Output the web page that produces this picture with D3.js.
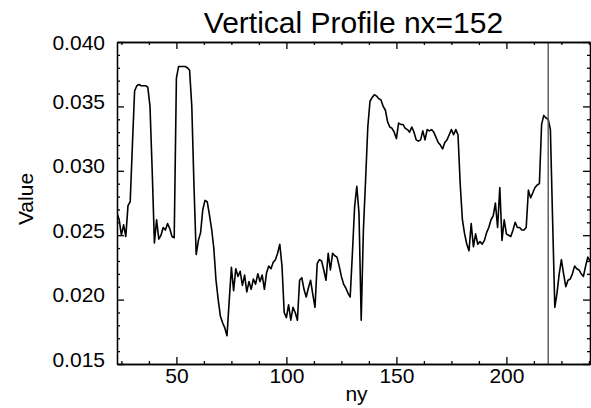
<!DOCTYPE html>
<html>
<head>
<meta charset="utf-8">
<script src="https://cdn.jsdelivr.net/npm/d3@7"></script>
<style>
  body { margin: 0; background: #fff; }
  svg { display: block; }
  text { font-family: "Liberation Sans", Arial, sans-serif; fill: #000; }
  .axis path, .axis line { stroke: #000; stroke-width: 1.3; }
  .profile { fill: none; stroke: #000; stroke-width: 1.6; stroke-linejoin: round; }
  .marker { stroke: #555; stroke-width: 1.4; }
</style>
</head>
<body>
<div id="chart"></div>
<script>
// profile values, one per ny from nyStart upward
var nyStart = 23;
var profileValues = [
  0.0267, 0.0262, 0.0250, 0.0258, 0.0249, 0.0273, 0.0276, 0.0320, 0.0362, 0.0366,
  0.0367, 0.0366, 0.0366, 0.0366, 0.0365, 0.0350, 0.0300, 0.0244, 0.0262, 0.0247,
  0.0250, 0.0256, 0.0254, 0.0259, 0.0255, 0.0249, 0.0248, 0.0372, 0.0381, 0.0381,
  0.0381, 0.0381, 0.0380, 0.0378, 0.0350, 0.0288, 0.0235, 0.0246, 0.0252, 0.0270,
  0.0277, 0.0276, 0.0266, 0.0255, 0.0240, 0.0215, 0.0200, 0.0187, 0.0182, 0.0178,
  0.0172, 0.0199, 0.0225, 0.0207, 0.0224, 0.0218, 0.0222, 0.0211, 0.0219, 0.0206,
  0.0214, 0.0208, 0.0216, 0.0212, 0.0220, 0.0214, 0.0219, 0.0208, 0.0221, 0.0226,
  0.0224, 0.0229, 0.0231, 0.0236, 0.0243, 0.0226, 0.0190, 0.0186, 0.0196, 0.0184,
  0.0194, 0.0190, 0.0184, 0.0215, 0.0217, 0.0208, 0.0202, 0.0209, 0.0215, 0.0204,
  0.0194, 0.0228, 0.0231, 0.0230, 0.0223, 0.0215, 0.0236, 0.0223, 0.0236, 0.0234,
  0.0233, 0.0226, 0.0218, 0.0212, 0.0209, 0.0205, 0.0202, 0.0236, 0.0272, 0.0288,
  0.0267, 0.0184, 0.0254, 0.0293, 0.0334, 0.0354, 0.0357, 0.0359, 0.0358, 0.0356,
  0.0355, 0.0350, 0.0347, 0.0338, 0.0334, 0.0333, 0.0330, 0.0325, 0.0337, 0.0336,
  0.0336, 0.0333, 0.0332, 0.0330, 0.0334, 0.0330, 0.0324, 0.0323, 0.0324, 0.0331,
  0.0324, 0.0332, 0.0331, 0.0332, 0.0330, 0.0326, 0.0322, 0.0320, 0.0317, 0.0322,
  0.0324, 0.0328, 0.0332, 0.0328, 0.0332, 0.0328, 0.0290, 0.0262, 0.0251, 0.0243,
  0.0238, 0.0259, 0.0241, 0.0251, 0.0243, 0.0245, 0.0243, 0.0246, 0.0252, 0.0256,
  0.0262, 0.0265, 0.0275, 0.0256, 0.0287, 0.0246, 0.0262, 0.0251, 0.0250, 0.0249,
  0.0254, 0.0260, 0.0256, 0.0256, 0.0254, 0.0254, 0.0256, 0.0285, 0.0279, 0.0283,
  0.0287, 0.0289, 0.0290, 0.0336, 0.0343, 0.0341, 0.0340, 0.0332, 0.0262, 0.0194,
  0.0205, 0.0220, 0.0231, 0.0220, 0.0210, 0.0215, 0.0216, 0.0220, 0.0226, 0.0224,
  0.0223, 0.0220, 0.0218, 0.0226, 0.0233, 0.0230
];
var nyRange = [23, 238];
var valueRange = [0.015, 0.040];
var xMajorTicks = [50, 100, 150, 200];
var xMinorTicks = [25, 37.5, 62.5, 75, 87.5, 112.5, 125, 137.5, 162.5, 175, 187.5, 212.5, 225, 237.5];
var yMajorTicks = [0.015, 0.020, 0.025, 0.030, 0.035, 0.040];
var yMinorTicks = [0.016, 0.017, 0.018, 0.019, 0.021, 0.022, 0.023, 0.024, 0.026, 0.027, 0.028, 0.029,
                   0.031, 0.032, 0.033, 0.034, 0.036, 0.037, 0.038, 0.039];
var markerNy = 219;
var titleText = "Vertical Profile nx=152";

var data = profileValues.map(function (v, i) { return { ny: nyStart + i, value: v }; });

var margin = { top: 42, right: 1, bottom: 44, left: 117 },
    width = 591 - margin.left - margin.right,
    height = 408 - margin.top - margin.bottom;

var svg = d3.select("#chart")
    .append("svg")
    .attr("width", 591)
    .attr("height", 408);

var g = svg.append("g")
    .attr("transform", "translate(" + margin.left + "," + margin.top + ")");

var x = d3.scaleLinear().domain(nyRange).range([0, width]),
    y = d3.scaleLinear().domain(valueRange).range([height, 0]);

var line = d3.line()
    .x(function (d) { return x(d.ny); })
    .y(function (d) { return y(d.value); });

g.append("clipPath").attr("id", "clip")
    .append("rect").attr("width", width).attr("height", height);

g.append("path")
    .datum(data)
    .attr("class", "profile")
    .attr("clip-path", "url(#clip)")
    .attr("d", line);

g.append("line")
    .attr("class", "marker")
    .attr("x1", x(markerNy)).attr("x2", x(markerNy))
    .attr("y1", 0).attr("y2", height);

// bottom axis
g.append("g")
    .attr("class", "axis axis--x")
    .attr("transform", "translate(0," + height + ")")
    .call(d3.axisBottom(x).tickValues(xMajorTicks).tickSize(-7).tickSizeOuter(0).tickFormat(d3.format("d")))
    .call(function (a) { a.selectAll("text").attr("y", 19).attr("dy", null).style("font-size", "21px"); });

g.append("g")
    .attr("class", "axis")
    .attr("transform", "translate(0," + height + ")")
    .call(d3.axisBottom(x).tickValues(xMinorTicks).tickSize(-3).tickSizeOuter(0).tickFormat(""));

// top axis, no labels
g.append("g")
    .attr("class", "axis")
    .call(d3.axisTop(x).tickValues(xMajorTicks).tickSize(-7).tickSizeOuter(0).tickFormat(""));

g.append("g")
    .attr("class", "axis")
    .call(d3.axisTop(x).tickValues(xMinorTicks).tickSize(-3).tickSizeOuter(0).tickFormat(""));

// left axis
g.append("g")
    .attr("class", "axis axis--y")
    .call(d3.axisLeft(y).tickValues(yMajorTicks).tickSize(-7).tickSizeOuter(0).tickFormat(d3.format(".3f")))
    .call(function (a) {
        a.selectAll("text")
            .attr("x", -12)
            .attr("dy", function (d) { return d === 0.040 ? "0.36em" : "0.1em"; })
            .style("font-size", "21px");
    });

g.append("g")
    .attr("class", "axis")
    .call(d3.axisLeft(y).tickValues(yMinorTicks).tickSize(-3).tickSizeOuter(0).tickFormat(""));

// right axis, no labels
g.append("g")
    .attr("class", "axis")
    .attr("transform", "translate(" + width + ",0)")
    .call(d3.axisRight(y).tickValues(yMajorTicks).tickSize(-7).tickSizeOuter(0).tickFormat(""));

g.append("g")
    .attr("class", "axis")
    .attr("transform", "translate(" + width + ",0)")
    .call(d3.axisRight(y).tickValues(yMinorTicks).tickSize(-3).tickSizeOuter(0).tickFormat(""));

// titles
svg.append("text")
    .attr("x", margin.left + width / 2)
    .attr("y", 33)
    .attr("text-anchor", "middle")
    .style("font-size", "30px")
    .text(titleText);

svg.append("text")
    .attr("x", margin.left + width / 2 + 3)
    .attr("y", 401)
    .attr("text-anchor", "middle")
    .style("font-size", "21px")
    .text("ny");

svg.append("text")
    .attr("transform", "translate(33,199) rotate(-90)")
    .attr("text-anchor", "middle")
    .style("font-size", "21px")
    .text("Value");
</script>
</body>
</html>
